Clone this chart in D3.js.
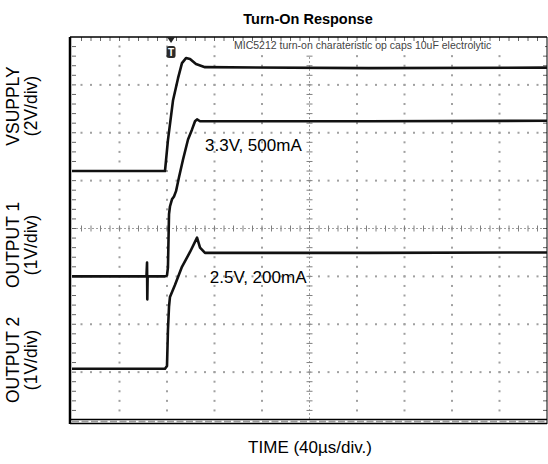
<!DOCTYPE html>
<html><head><meta charset="utf-8">
<script src="https://cdn.jsdelivr.net/npm/d3@7"></script>
<style>body{margin:0;background:#fff}svg{display:block;font-family:Arial,"Liberation Sans",sans-serif}</style>
</head><body><svg id="c" width="548" height="464"></svg>
<script>
// ---------- data ----------
const title = "Turn-On Response";
const xLabel = "TIME (40µs/div.)";
const note = "MIC5212 turn-on charateristic op caps 10uF electrolytic";
const channelNames = ["VSUPPLY", "OUTPUT 1", "OUTPUT 2"];
const channelScales = ["(2V/div)", "(1V/div)", "(1V/div)"];
const voltsPerDiv = [2, 1, 1];
const channelOffsetDiv = [5.2, 3.0, 1.07];
const annotations = ["3.3V, 500mA", "2.5V, 200mA"];
const usPerDiv = 40;
const xDivs = 10, yDivs = 8;
const triggerTime = 83.4; // µs

// VSUPPLY (volts vs µs)
const vsupplyT = [0, 78.3, 80.8, 85.1, 89.3, 92.6, 96, 99.4, 104.4, 112, 250, 400];
const vsupplyV = [0, 0, 1.29, 2.96, 3.88, 4.51, 4.72, 4.68, 4.47, 4.34, 4.30, 4.32];
// OUTPUT 1
const out1T = [0, 62.7, 63.2, 63.4, 63.7, 78.3, 80, 80.8, 81.7, 82.5, 84.2, 85.9, 87.6, 90.1, 93.5, 97.7, 101.1, 103.6, 105.3, 107.8, 250, 400];
const out1V = [0, 0, 0.29, -0.48, 0, 0, 0.02, 0.19, 1.30, 1.46, 1.61, 1.67, 1.78, 2.07, 2.44, 2.86, 3.07, 3.24, 3.28, 3.24, 3.24, 3.25];
// OUTPUT 2
const out2T = [0, 78.3, 80, 80.8, 81.7, 82.5, 86.7, 92.6, 99.4, 105.3, 107.8, 112, 250, 400];
const out2V = [0, 0, 0.06, 0.81, 1.30, 1.50, 1.75, 2.13, 2.44, 2.74, 2.53, 2.42, 2.42, 2.43];

// ---------- layout ----------
const svg = d3.select("#c");
const X0 = 72, X1 = 547, Y0 = 37, Y1 = 420;
const x = d3.scaleLinear().domain([0, xDivs * usPerDiv]).range([X0, X1]);
const y = d3.scaleLinear().domain([0, yDivs]).range([Y1, Y0]);

const g = svg.append("g");

// dotted grid
const minorX = d3.range(1, xDivs * 5).map(k => k * usPerDiv / 5);
const minorY = d3.range(1, yDivs * 5).map(k => k / 5);
const dotCol = "#a0a0a0";
d3.range(1, xDivs).filter(i => i !== xDivs / 2).forEach(i => {
  g.append("g").selectAll("rect").data(minorY).join("rect")
    .attr("x", x(i * usPerDiv) - 1).attr("y", d => y(d) - 1)
    .attr("width", 2).attr("height", 2).attr("fill", dotCol);
});
d3.range(1, yDivs).filter(j => j !== yDivs / 2).forEach(j => {
  g.append("g").selectAll("rect").data(minorX).join("rect")
    .attr("x", d => x(d) - 1).attr("y", y(j) - 1)
    .attr("width", 2).attr("height", 2).attr("fill", dotCol);
});
// centre lines with ticks
const cx = x(xDivs / 2 * usPerDiv), cy = y(yDivs / 2);
g.append("line").attr("x1", cx).attr("x2", cx).attr("y1", Y0).attr("y2", Y1)
  .attr("stroke", "#a0a0a0").attr("stroke-dasharray", "2,2");
g.append("line").attr("x1", X0).attr("x2", X1).attr("y1", cy).attr("y2", cy)
  .attr("stroke", "#a0a0a0").attr("stroke-dasharray", "2,2");
g.append("g").selectAll("line").data(minorY).join("line")
  .attr("x1", cx - 3).attr("x2", cx + 3).attr("y1", d => y(d)).attr("y2", d => y(d))
  .attr("stroke", "#808080").attr("stroke-width", 1);
g.append("g").selectAll("line").data(minorX).join("line")
  .attr("y1", cy - 3).attr("y2", cy + 3).attr("x1", d => x(d)).attr("x2", d => x(d))
  .attr("stroke", "#808080").attr("stroke-width", 1);

// border ticks
g.append("g").selectAll("line").data(minorY).join("line")
  .attr("x1", X0).attr("x2", X0 + 4).attr("y1", d => y(d)).attr("y2", d => y(d))
  .attr("stroke", "#666");
g.append("g").selectAll("line").data(minorY).join("line")
  .attr("x1", X1 - 4).attr("x2", X1).attr("y1", d => y(d)).attr("y2", d => y(d))
  .attr("stroke", "#666");
g.append("g").selectAll("line").data(minorX).join("line")
  .attr("y1", Y0).attr("y2", Y0 + 4).attr("x1", d => x(d)).attr("x2", d => x(d))
  .attr("stroke", "#666");

// note box (white background)
const noteText = g.append("text").attr("x", 234).attr("y", Y0 + 12)
  .attr("font-size", 10.5).attr("fill", "#444").text(note);
const bb = noteText.node().getBBox();
g.insert("rect", "text").attr("x", bb.x - 2).attr("y", Y0 + 5).attr("width", X1 - bb.x).attr("height", bb.height + 1).attr("fill", "#fff");

// border
g.append("line").attr("x1", X0 - 2).attr("x2", X1).attr("y1", Y0).attr("y2", Y0).attr("stroke", "#000").attr("stroke-width", 1.5);
g.append("line").attr("x1", X0 - 2).attr("x2", X0 - 2).attr("y1", Y0).attr("y2", Y1 + 4).attr("stroke", "#000").attr("stroke-width", 2.5);
g.append("line").attr("x1", X1).attr("x2", X1).attr("y1", Y0).attr("y2", Y1 + 4).attr("stroke", "#000").attr("stroke-width", 1);
// bottom ruler (double line)
g.append("line").attr("x1", X0 - 2).attr("x2", X1).attr("y1", Y1 - 0.5).attr("y2", Y1 - 0.5).attr("stroke", "#000").attr("stroke-width", 1.5);
g.append("line").attr("x1", X0 - 2).attr("x2", X1).attr("y1", Y1 + 3.5).attr("y2", Y1 + 3.5).attr("stroke", "#000").attr("stroke-width", 1.5);
g.append("line").attr("x1", X0).attr("x2", X1).attr("y1", Y1 + 1.5).attr("y2", Y1 + 1.5)
  .attr("stroke", "#9a9a9a").attr("stroke-width", 2).attr("stroke-dasharray", "7,2.5");

// traces
const traces = [
  { t: vsupplyT, v: vsupplyV, ch: 0 },
  { t: out1T, v: out1V, ch: 1 },
  { t: out2T, v: out2V, ch: 2 }
];
traces.forEach(tr => {
  const pts = tr.t.map((t, i) => [x(t), y(channelOffsetDiv[tr.ch] + tr.v[i] / voltsPerDiv[tr.ch])]);
  g.append("path").attr("d", d3.line()(pts)).attr("fill", "none")
    .attr("stroke", "#111").attr("stroke-width", 2.6).attr("stroke-linejoin", "round");
});

// trigger marker
const tx = x(triggerTime);
g.append("path").attr("d", `M${tx - 4},${Y0} L${tx + 4},${Y0} L${tx},${Y0 + 6} Z`).attr("fill", "#222");
g.append("rect").attr("x", tx - 4.5).attr("y", Y0 + 9).attr("width", 9).attr("height", 12).attr("rx", 2.5).attr("fill", "#2a2a2a");
g.append("text").attr("x", tx).attr("y", Y0 + 19).attr("text-anchor", "middle").attr("font-size", 10).attr("font-weight", "bold").attr("fill", "#fff").text("T");

// annotations
svg.append("text").attr("x", x(112)).attr("y", y(5.62)).attr("font-size", 17).attr("fill", "#000").text(annotations[0]);
svg.append("text").attr("x", x(116)).attr("y", y(2.86)).attr("font-size", 17).attr("fill", "#000").text(annotations[1]);

// title & x label
svg.append("text").attr("x", 308).attr("y", 24).attr("text-anchor", "middle").attr("font-size", 14.5).attr("font-weight", "bold").text(title);
svg.append("text").attr("x", 310).attr("y", 453).attr("text-anchor", "middle").attr("font-size", 17).text(xLabel);

// channel labels
const labelCenters = [106, 245, 360];
channelNames.forEach((n, i) => {
  const c = labelCenters[i];
  svg.append("text").attr("transform", `translate(19,${c}) rotate(-90)`).attr("text-anchor", "middle").attr("font-size", 17.5).text(n);
  svg.append("text").attr("transform", `translate(37,${c}) rotate(-90)`).attr("text-anchor", "middle").attr("font-size", 17.5).text(channelScales[i]);
});
</script></body></html>
